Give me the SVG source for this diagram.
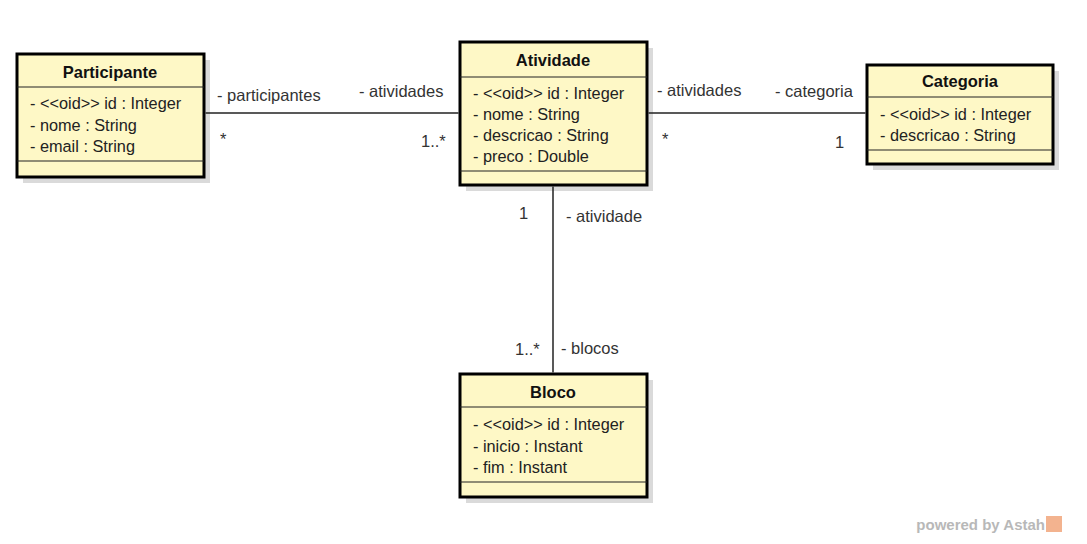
<svg xmlns="http://www.w3.org/2000/svg" width="1087" height="544" viewBox="0 0 1087 544">
<style>
.shadow{fill:#dadada}
.box{fill:#fef8c6;stroke:#000;stroke-width:3}
.sep{stroke:#222;stroke-width:1.2}
.title{font-family:"Liberation Sans",Arial,sans-serif;font-size:16.5px;font-weight:bold;fill:#111;text-anchor:middle}
.attr{font-family:"Liberation Sans",Arial,sans-serif;font-size:16.3px;fill:#222}
.lbl{font-family:"Liberation Sans",Arial,sans-serif;font-size:16.5px;fill:#333}
.conn{stroke:#222;stroke-width:1.5;fill:none}
</style>
<rect width="1087" height="544" fill="#fff"/>
<g id="Participante">
<rect class="shadow" x="23" y="60" width="187" height="123"/>
<rect class="box" x="17" y="54" width="187" height="123"/>
<line class="sep" x1="17" y1="87" x2="204" y2="87"/>
<line class="sep" x1="17" y1="161" x2="204" y2="161"/>
<text class="title" x="110" y="78">Participante</text>
<text class="attr" x="30" y="109">- &lt;&lt;oid&gt;&gt; id : Integer</text>
<text class="attr" x="30" y="131">- nome : String</text>
<text class="attr" x="30" y="152">- email : String</text>
</g>
<g id="Atividade">
<rect class="shadow" x="466" y="48" width="187" height="143"/>
<rect class="box" x="460" y="42" width="187" height="143"/>
<line class="sep" x1="460" y1="77" x2="647" y2="77"/>
<line class="sep" x1="460" y1="171" x2="647" y2="171"/>
<text class="title" x="553" y="66">Atividade</text>
<text class="attr" x="473" y="99">- &lt;&lt;oid&gt;&gt; id : Integer</text>
<text class="attr" x="473" y="120">- nome : String</text>
<text class="attr" x="473" y="141">- descricao : String</text>
<text class="attr" x="473" y="162">- preco : Double</text>
</g>
<g id="Categoria">
<rect class="shadow" x="873" y="71" width="186" height="99"/>
<rect class="box" x="867" y="65" width="186" height="99"/>
<line class="sep" x1="867" y1="97" x2="1053" y2="97"/>
<line class="sep" x1="867" y1="150" x2="1053" y2="150"/>
<text class="title" x="960" y="87">Categoria</text>
<text class="attr" x="880" y="120">- &lt;&lt;oid&gt;&gt; id : Integer</text>
<text class="attr" x="880" y="141">- descricao : String</text>
</g>
<g id="Bloco">
<rect class="shadow" x="466" y="380" width="187" height="123"/>
<rect class="box" x="460" y="374" width="187" height="123"/>
<line class="sep" x1="460" y1="407" x2="647" y2="407"/>
<line class="sep" x1="460" y1="482" x2="647" y2="482"/>
<text class="title" x="553" y="398">Bloco</text>
<text class="attr" x="473" y="430">- &lt;&lt;oid&gt;&gt; id : Integer</text>
<text class="attr" x="473" y="452">- inicio : Instant</text>
<text class="attr" x="473" y="473">- fim : Instant</text>
</g>
<g id="connectors">
<line class="conn" x1="205.5" y1="113" x2="458.5" y2="113"/>
<line class="conn" x1="648.5" y1="113" x2="865.5" y2="113"/>
<line class="conn" x1="553" y1="186.5" x2="553" y2="372.5"/>
<text class="lbl" x="217" y="101">- participantes</text>
<text class="lbl" x="359" y="97">- atividades</text>
<text class="lbl" x="220" y="145">*</text>
<text class="lbl" x="421" y="147">1..*</text>
<text class="lbl" x="657" y="96">- atividades</text>
<text class="lbl" x="775" y="97">- categoria</text>
<text class="lbl" x="662" y="145">*</text>
<text class="lbl" x="835" y="148">1</text>
<text class="lbl" x="519" y="219">1</text>
<text class="lbl" x="566" y="222">- atividade</text>
<text class="lbl" x="515" y="355">1..*</text>
<text class="lbl" x="561" y="354">- blocos</text>
</g>
<g id="watermark">
<text x="1045" y="530" text-anchor="end" font-family="'Liberation Sans',Arial,sans-serif" font-size="15" font-weight="bold" fill="#b8b8b8">powered by Astah</text>
<rect x="1046" y="516" width="16" height="16" fill="#f3b38f"/>
</g>
</svg>
